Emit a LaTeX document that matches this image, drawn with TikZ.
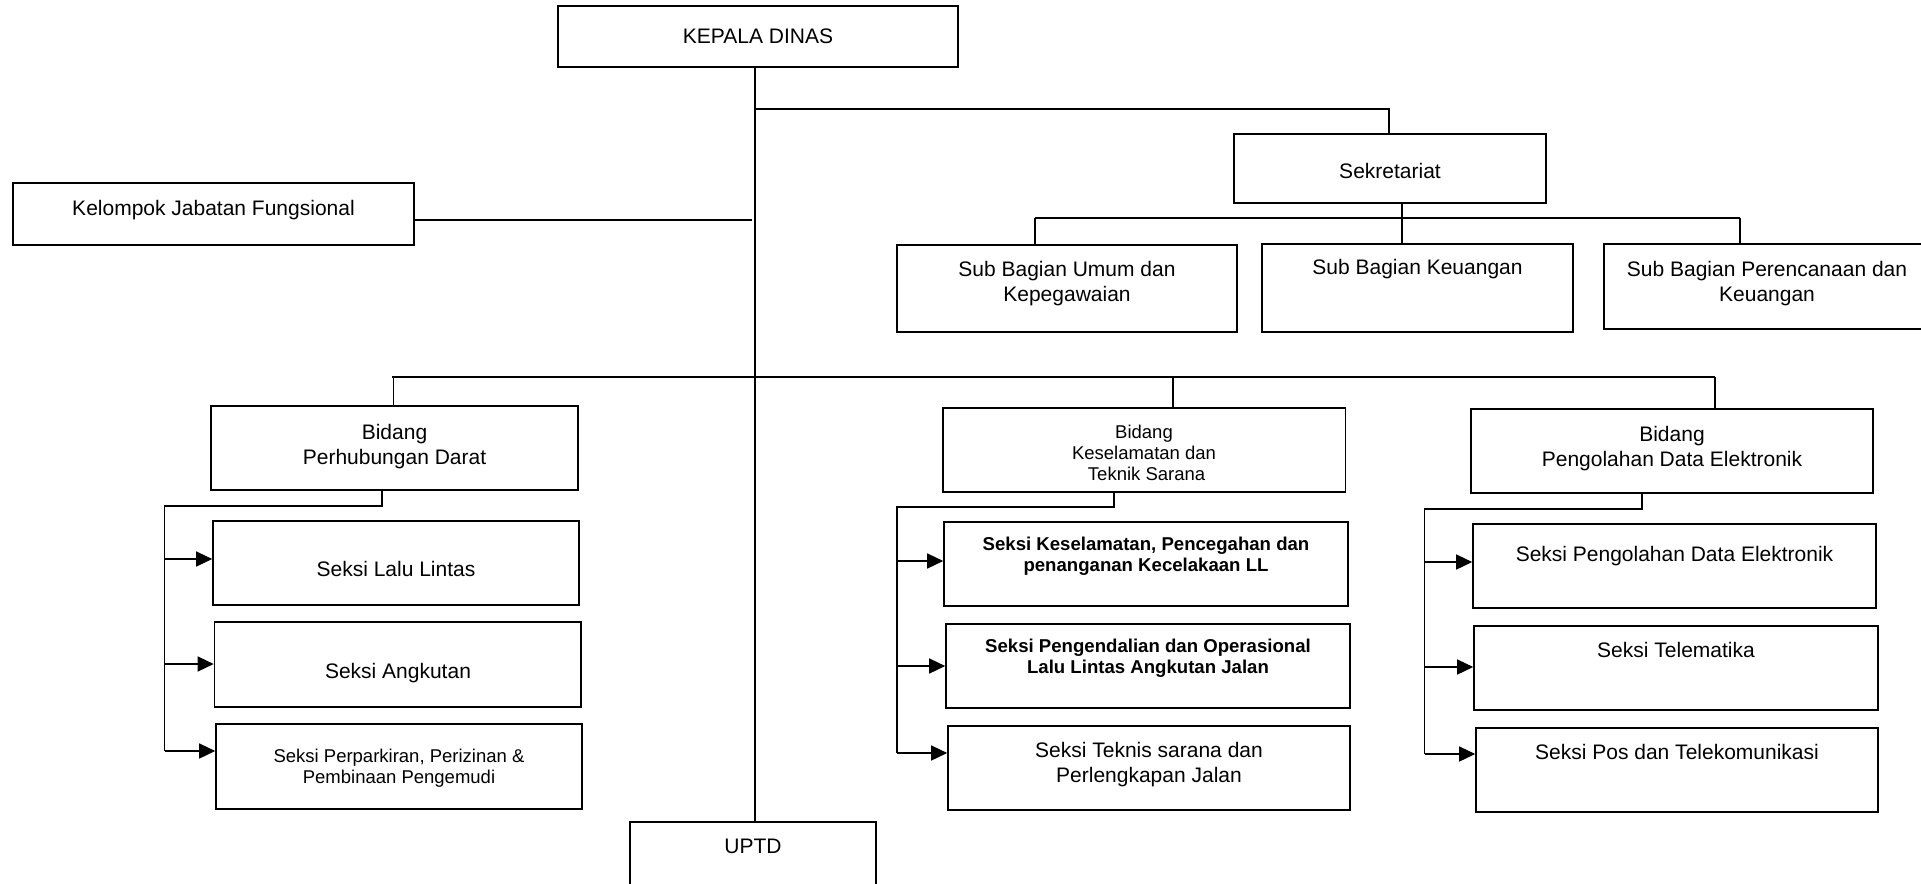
\documentclass[tikz,border=0pt]{standalone}
\usepackage{fontspec}
\setmainfont{Liberation Sans}
\usetikzlibrary{arrows.meta,calc}
\tikzset{
  box/.style={draw, line width=1.6pt, inner sep=0pt},
  conn/.style={line width=1.4pt},
  arr/.style={line width=1.4pt, -{Triangle[length=16pt,width=15pt]}},
  txt/.style={align=center, inner sep=0pt, text height=20pt, text depth=5pt, font=\fontsize{21}{25}\selectfont},
  txtm/.style={align=center, inner sep=0pt, font=\fontsize{21}{25}\selectfont},
  txts/.style={align=center, inner sep=0pt, font=\fontsize{18.5}{21}\selectfont},
  txtb/.style={align=center, inner sep=0pt, font=\fontsize{18.6}{21}\selectfont\bfseries},
}
\newcommand\bx[5]{%
  \pgfmathsetmacro\bxw{#4-#2}\pgfmathsetmacro\bxh{#5-#3}%
  \node[box, minimum width=\bxw pt, minimum height=\bxh pt] (#1) at ({(#2+#4)/2},{(#3+#5)/2}) {};}
\begin{document}
\begin{tikzpicture}[x=1pt,y=-1pt]
\useasboundingbox (0,0) rectangle (1921,883);
% boxes
\bx{kd}{558}{6}{958}{67}
\bx{kjf}{13}{183}{414}{245}
\bx{sek}{1234}{134}{1546}{203}
\bx{sbu}{897}{245}{1237}{332}
\bx{sbk}{1262}{244}{1573}{332}
\bx{sbp}{1604}{244}{1932}{329}
\bx{uptd}{630}{822}{876}{900}
\bx{bpd}{211}{406}{578}{490}
\bx{sll}{213}{521}{579}{605}
\bx{sa}{214.5}{622}{581}{707}
\bx{spp}{216}{724}{582}{809}
\bx{bk}{943}{408}{1345.5}{492}
\bx{sk}{944}{522}{1348}{606}
\bx{spo}{946}{624}{1350}{708}
\bx{stn}{948}{726}{1350}{810}
\bx{bpde}{1471}{409}{1873}{493}
\bx{spde}{1473}{524}{1876}{608}
\bx{stel}{1474}{626}{1878}{710}
\bx{spos}{1476}{728}{1878}{812}
% texts
\node[txt] (kd-t) at (758,36) {KEPALA DINAS};
\node[txt] (kjf-t) at (213.5,208) {Kelompok Jabatan Fungsional};
\node[txt] (sek-t) at (1390,171) {Sekretariat};
\node[txtm] (sbu-t) at (1067,283.5) {Sub Bagian Umum dan\\Kepegawaian};
\node[txt] (sbk-t) at (1417.5,267) {Sub Bagian Keuangan};
\node[txtm] (sbp-t) at (1767,283.5) {Sub Bagian Perencanaan dan\\Keuangan};
\node[txt] (uptd-t) at (753,846) {UPTD};
\node[txtm] (bpd-t) at (394.5,446.5) {Bidang\\Perhubungan Darat};
\node[txt] (sll-t) at (396,569) {Seksi Lalu Lintas};
\node[txt] (sa-t) at (398,671) {Seksi Angkutan};
\node[txts] (spp-t) at (399,768) {Seksi Perparkiran, Perizinan \&\\Pembinaan Pengemudi};
\node[txts] (bk-t) at (1144,453) {Bidang\\Keselamatan dan\\\ Teknik Sarana};
\node[txtb] (sk-t) at (1146,556) {Seksi Keselamatan, Pencegahan dan\\penanganan Kecelakaan LL};
\node[txtb] (spo-t) at (1148,658) {Seksi Pengendalian dan Operasional\\Lalu Lintas Angkutan Jalan};
\node[txtm] (stn-t) at (1149,764.5) {Seksi Teknis sarana dan\\Perlengkapan Jalan};
\node[txtm] (bpde-t) at (1672,449) {Bidang\\Pengolahan Data Elektronik};
\node[txt] (spde-t) at (1674.5,554) {Seksi Pengolahan Data Elektronik};
\node[txt] (stel-t) at (1676,650) {Seksi Telematika};
\node[txt] (spos-t) at (1677,752) {Seksi Pos dan Telekomunikasi};
% junction coordinates
\coordinate (kjfend) at (752,220);
\coordinate (sekj) at (755,109);
\coordinate (sbj1) at (1035,218);
\coordinate (sbj2) at (1740,218);
\coordinate (bj1) at (392,377);
\coordinate (bj2) at (1715,377);
\coordinate (pdj) at (164.5,506);
\coordinate (kj) at (897,507);
\coordinate (ej) at (1424.5,509);
% trunk
\draw[conn] (kd.south -| 755,0) -- (uptd.north -| 755,0);
\draw[conn] (kjf.east |- kjfend) -- (kjfend);
\draw[conn] (sekj) -| (sek.north -| 1389,0);
% sekretariat subtree
\draw[conn] (sek.south -| 1402,0) -- (sbk.north -| 1402,0);
\draw[conn] (sbj1) -- (sbj2);
\draw[conn] (sbj1) -- (sbu.north -| sbj1);
\draw[conn] (sbj2) -- (sbp.north -| sbj2);
% bidang line
\draw[conn] (bj1) -- (bj2);
\draw[conn] (393.6,377) -- (bpd.north -| 393.6,0);
\draw[conn] (1173,377) -- (bk.north -| 1173,0);
\draw[conn] (bj2) -- (bpde.north -| bj2);
% Perhubungan Darat
\draw[conn] (bpd.south -| 382,0) -- (382,506) -- (pdj) -- (164.5,751);
\draw[arr] (164.5,559) -- (sll.west |- 0,559);
\draw[arr] (164.5,664) -- (sa.west |- 0,664);
\draw[arr] (164.5,751) -- (spp.west |- 0,751);
% Keselamatan
\draw[conn] (bk.south -| 1114,0) -- (1114,507) -- (kj) -- (897,753);
\draw[arr] (897,561) -- (sk.west |- 0,561);
\draw[arr] (897,666) -- (spo.west |- 0,666);
\draw[arr] (897,753) -- (stn.west |- 0,753);
% PDE
\draw[conn] (bpde.south -| 1642,0) -- (1642,509) -- (ej) -- (1424.5,754);
\draw[arr] (1424.5,562) -- (spde.west |- 0,562);
\draw[arr] (1424.5,667) -- (stel.west |- 0,667);
\draw[arr] (1424.5,754) -- (spos.west |- 0,754);
\end{tikzpicture}
\end{document}
